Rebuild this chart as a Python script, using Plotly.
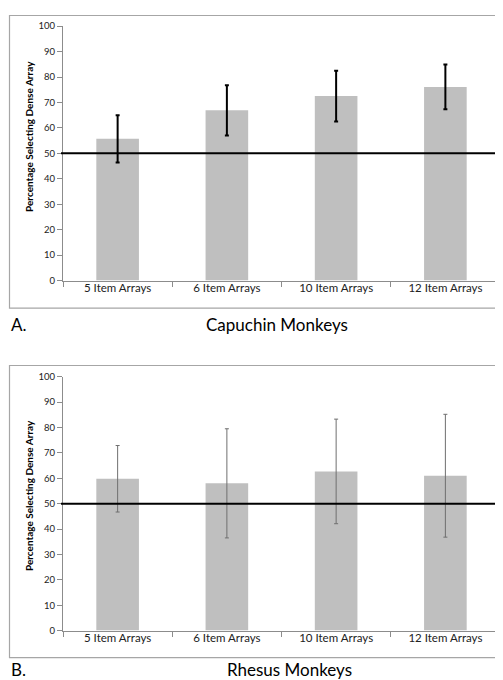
import plotly.graph_objects as go

categories = ["5 Item Arrays", "6 Item Arrays", "10 Item Arrays", "12 Item Arrays"]
capuchin_values = [55.7, 66.9, 72.5, 76.1]
capuchin_errors = [9.3, 9.9, 10.0, 8.8]
rhesus_values = [59.8, 58.0, 62.7, 61.0]
rhesus_errors = [13.1, 21.5, 20.6, 24.2]
y_ticks = [0, 10, 20, 30, 40, 50, 60, 70, 80, 90, 100]
chance_level = 50
panel_labels = ["A.", "B."]
panel_titles = ["Capuchin Monkeys", "Rhesus Monkeys"]
y_title = "Percentage Selecting Dense Array"

W, H = 503, 680
FONT = "Lato"

def px_x(p):
    return p / W

def px_y(p):
    return 1 - p / H

fig = go.Figure()

fig.add_trace(go.Bar(
    x=categories, y=capuchin_values, xaxis="x", yaxis="y",
    marker=dict(color="#BFBFBF", line=dict(width=0)),
    error_y=dict(type="data", array=capuchin_errors, visible=True,
                 color="black", thickness=2, width=2),
    showlegend=False,
))
fig.add_trace(go.Bar(
    x=categories, y=rhesus_values, xaxis="x2", yaxis="y2",
    marker=dict(color="#BFBFBF", line=dict(width=0)),
    error_y=dict(type="data", array=rhesus_errors, visible=True,
                 color="#6f6f6f", thickness=1, width=2),
    showlegend=False,
))

xdom = [px_x(55), px_x(492)]
common_x = dict(
    type="category", range=[-0.5, 3.5], showline=True, linecolor="#8c8c8c",
    linewidth=1, ticks="outside", tickson="boundaries", ticklen=5,
    tickcolor="#8c8c8c", tickfont=dict(family=FONT, size=11.5, color="#222"),
    ticklabelstandoff=-3,
    showgrid=False, zeroline=False, fixedrange=True,
)
common_y = dict(
    range=[0, 100], tickvals=y_ticks, showline=True, linecolor="#8c8c8c",
    linewidth=1, ticks="outside", ticklen=5, tickcolor="#8c8c8c",
    tickfont=dict(family=FONT, size=9.5, color="#222"), showgrid=False,
    zeroline=False,
)

fig.update_layout(
    width=W, height=H, margin=dict(l=0, r=0, t=0, b=0),
    paper_bgcolor="white", plot_bgcolor="white", bargap=0.61,
    xaxis=dict(domain=xdom, anchor="y", **common_x),
    yaxis=dict(domain=[px_y(271), px_y(12.3)], anchor="x", **common_y),
    xaxis2=dict(domain=xdom, anchor="y2", **common_x),
    yaxis2=dict(domain=[px_y(626.7), px_y(368.7)], anchor="x2", **common_y),
)

shapes = []
# panel borders
for top, bottom in [(1.5, 299), (357.3, 654.3)]:
    shapes.append(dict(type="rect", xref="paper", yref="paper",
                       x0=px_x(1.5), x1=px_x(501), y0=px_y(bottom), y1=px_y(top),
                       line=dict(color="#a6a6a6", width=1.2), fillcolor="rgba(0,0,0,0)",
                       layer="below"))
# chance lines
for yref in ["y", "y2"]:
    shapes.append(dict(type="line", xref="paper", yref=yref,
                       x0=px_x(53), x1=px_x(494), y0=chance_level, y1=chance_level,
                       line=dict(color="black", width=2)))
fig.update_layout(shapes=shapes)

annotations = []
for label, title, ypix, xc, ytc in [(panel_labels[0], panel_titles[0], 316, 268.5, 125),
                                     (panel_labels[1], panel_titles[1], 666, 281, 490)]:
    annotations.append(dict(text=label, xref="paper", yref="paper",
                            x=px_x(1), y=px_y(ypix), xanchor="left", yanchor="middle",
                            showarrow=False, font=dict(family=FONT, size=17, color="black")))
    annotations.append(dict(text=title, xref="paper", yref="paper",
                            x=px_x(xc), y=px_y(ypix), xanchor="center", yanchor="middle",
                            showarrow=False, font=dict(family=FONT, size=17, color="black")))
    annotations.append(dict(text="<b>" + y_title + "</b>", xref="paper", yref="paper",
                            x=px_x(21), y=px_y(ytc), xanchor="center", yanchor="middle",
                            textangle=-90, showarrow=False,
                            font=dict(family=FONT, size=10, color="black")))
fig.update_layout(annotations=annotations)

fig.write_html("out.html")
